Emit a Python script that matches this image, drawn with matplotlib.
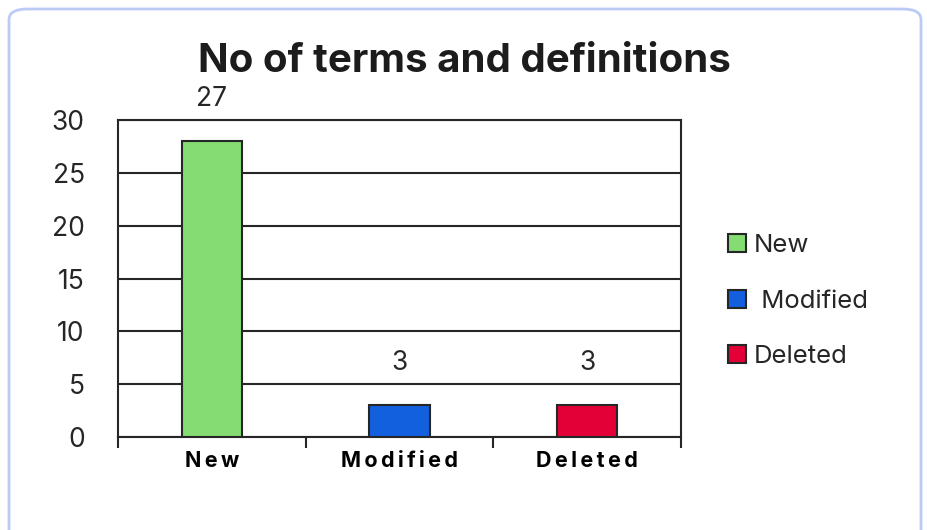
import matplotlib.pyplot as plt
from matplotlib.patches import Patch, FancyBboxPatch

plt.rcParams['font.family'] = ['Inter', 'DejaVu Sans']

# data
categories = ['New', 'Modified', 'Deleted']
values = [28, 3, 3]
value_labels = ['27', '3', '3']
legend_labels = ['New', ' Modified', 'Deleted']
colors = ['#85dc73', '#1260dd', '#e20037']
yticks = [0, 5, 10, 15, 20, 25, 30]

dark = '#262626'

fig = plt.figure(figsize=(9.28, 5.3), dpi=100)

# rounded card border
card = FancyBboxPatch((9 / 928, -0.05), 912 / 928, 1 - 9 / 530 + 0.05,
                      boxstyle='round,pad=0,rounding_size=0.02',
                      transform=fig.transFigure, facecolor='none',
                      edgecolor='#bccbf6', linewidth=2, zorder=-1)
fig.patches.append(card)

ax = fig.add_axes([118 / 928, 1 - 437 / 530, 563 / 928, 317 / 530])
ax.set_facecolor('none')

x = list(range(len(categories)))
ax.bar(x, values, width=0.32, color=colors, edgecolor=dark, linewidth=1.5, zorder=3)

for xi, v, lab in zip(x, values, value_labels):
    ax.text(xi, v + 4, lab, ha='center', va='center', fontsize=19,
            color=dark, clip_on=False)

ax.set_xlim(-0.5, 2.5)
ax.set_ylim(0, 30)
ax.set_yticks(yticks)
ax.tick_params(axis='y', length=0, pad=24, labelsize=19, labelcolor=dark)

ax.set_xticks(x)
ax.set_xticklabels(['\u2009'.join(c) for c in categories], fontweight='bold',
                   fontsize=15.5)
ax.set_xticks([-0.5, 0.5, 1.5, 2.5], minor=True)
ax.tick_params(axis='x', which='major', length=0, pad=10, labelcolor='black')
ax.tick_params(axis='x', which='minor', length=8, width=1.5, color=dark)

ax.grid(axis='y', color=dark, linewidth=1.5, zorder=1)
for s in ax.spines.values():
    s.set_color(dark)
    s.set_linewidth(1.5)

fig.text(0.5, 1 - 61 / 530, 'No of terms and definitions', ha='center',
         va='center', fontsize=29, fontweight='bold', color='#1c1c1c')

handles = [Patch(facecolor=c, edgecolor=dark, linewidth=1.5) for c in colors]
fig.legend(handles, legend_labels, loc='center left',
           bbox_to_anchor=(705 / 928, 1 - 301 / 530), frameon=False,
           fontsize=18.5, handlelength=0.7, handleheight=0.7, handletextpad=0.3,
           labelspacing=1.25, labelcolor=dark)

fig.savefig('out.png', dpi=100)
